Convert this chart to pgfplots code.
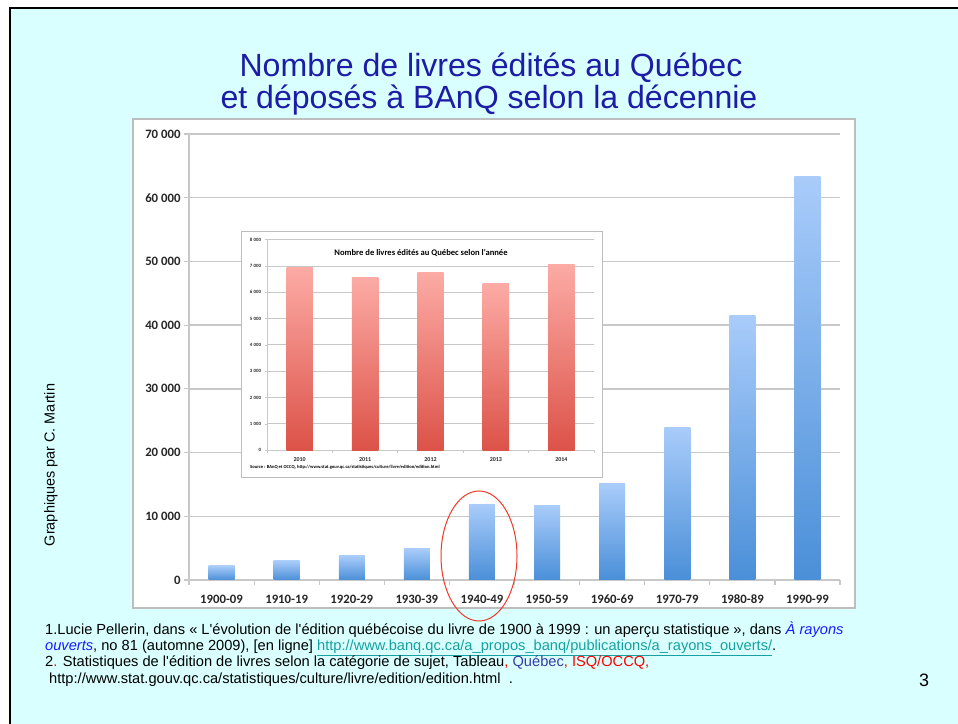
\documentclass[border=0pt]{standalone}
\usepackage{fontspec}
\setmainfont{Liberation Sans}[Ligatures=TeXOff]
\newfontfamily\calibri{Carlito}[Ligatures=TeXOff]
\usepackage{pgfplots}
\pgfplotsset{compat=1.18}

\definecolor{slidebg}{HTML}{D9FFFF}
\definecolor{titleblue}{HTML}{1C1CA6}
\definecolor{gridgray}{HTML}{C8C8C8}
\definecolor{boxgray}{HTML}{BDBDBD}
\definecolor{bluetop}{HTML}{A9CCFA}
\definecolor{bluebot}{HTML}{4A8FD8}
\definecolor{redtop}{HTML}{FCABA5}
\definecolor{redbot}{HTML}{DC5248}
\definecolor{ellred}{HTML}{EE3A2A}
\definecolor{linkteal}{HTML}{17A0A0}
\definecolor{qcblue}{HTML}{3A3AA8}
\definecolor{refblue}{HTML}{1A1AFF}

% books deposited per decade
\pgfplotstableread{
x val
0 2200
1 3000
2 3800
3 4900
4 11900
5 11700
6 15100
7 24000
8 41500
9 63400
}\decades

% books per year (inset)
\pgfplotstableread{
x val
0 6960
1 6580
2 6740
3 6320
4 7070
}\years

\begin{document}
\begin{tikzpicture}[x=1bp,y=1bp]
\useasboundingbox (0,0) rectangle (958,724);
\fill[white] (0,0) rectangle (958,724);
\fill[slidebg] (10,0) rectangle (958,716);
\draw[line width=2.5bp] (10,0) -- (10,716) -- (958,716);

% title
\node[anchor=base, text=titleblue, font=\fontsize{32.2}{36}\selectfont] at (491,647) {Nombre de livres édités au Québec};
\node[anchor=base, text=titleblue, font=\fontsize{32.2}{36}\selectfont] at (489,615) {et déposés à BAnQ selon la décennie};

% main chart frame
\draw[fill=white, draw=boxgray, line width=1.2bp] (133,116) rectangle (855,605);

\begin{axis}[
    at={(189bp,144bp)}, anchor=south west,
    scale only axis, width=651bp, height=446bp,
    xmin=-0.5, xmax=9.5, ymin=0, ymax=70000,
    axis x line*=bottom, axis y line*=left,
    axis line style={gridgray, line width=1.5bp},
    ytick={0,10000,...,70000},
    ymajorgrids, grid style={gridgray, line width=1.5bp},
    xtick={-0.5,0.5,...,9.5},
    x tick label as interval,
    xticklabels={1900-09,1910-19,1920-29,1930-39,1940-49,1950-59,1960-69,1970-79,1980-89,1990-99},
    xticklabel style={anchor=base, yshift=-19bp},
    tick align=outside, major tick length=5bp,
    tick style={gridgray, line width=1.2bp},
    ticklabel style={font=\calibri\bfseries\fontsize{12.8}{14}\selectfont, text=black!85},
    scaled y ticks=false,
    yticklabel style={/pgf/number format/.cd, 1000 sep={\ }, assume math mode=true},
]
% one path per bar, so each bar gets its own gradient
\pgfplotsinvokeforeach{0,...,9}{
  \addplot[ybar, bar width=26bp, bar shift=0pt, draw=none, top color=bluetop, bottom color=bluebot]
    table[x=x, y=val, restrict expr to domain={\coordindex}{#1:#1}] {\decades};
}
\end{axis}

% inset chart frame
\draw[fill=white, draw=boxgray, line width=1bp] (241,246) rectangle (602,492);

\begin{axis}[
    at={(267bp,273.7bp)}, anchor=south west,
    scale only axis, width=327bp, height=210.6bp,
    xmin=-0.5, xmax=4.5, ymin=0, ymax=8000,
    axis x line*=bottom, axis y line*=left,
    axis line style={gridgray, line width=0.8bp},
    ytick={0,1000,...,8000},
    ymajorgrids, grid style={gridgray, line width=1bp},
    xtick={-0.5,0.5,...,4.5},
    x tick label as interval,
    xticklabels={2010,2011,2012,2013,2014},
    tick align=outside, major tick length=2.5bp,
    tick style={gridgray, line width=0.8bp},
    xticklabel style={font=\calibri\bfseries\fontsize{6}{7}\selectfont, text=black!85, anchor=base, yshift=-9bp},
    yticklabel style={font=\calibri\bfseries\fontsize{4.9}{6}\selectfont, text=black!85,
        /pgf/number format/.cd, 1000 sep={\ }, assume math mode=true},
    scaled y ticks=false,
]
\pgfplotsinvokeforeach{0,...,4}{
  \addplot[ybar, bar width=26.4bp, bar shift=0pt, draw=none, top color=redtop, bottom color=redbot]
    table[x=x, y=val, restrict expr to domain={\coordindex}{#1:#1}] {\years};
}
\end{axis}

\node[anchor=base, font=\calibri\bfseries\fontsize{8.6}{10}\selectfont] at (421,468) {Nombre de livres édités au Québec selon l'année};
\node[anchor=base west, inner sep=0pt, font=\calibri\bfseries\fontsize{4.6}{5.5}\selectfont] at (250,255) {Source : BAnQ et OCCQ, http://www.stat.gouv.qc.ca/statistiques/culture/livre/edition/edition.html};

% highlight of the 1940s
\draw[ellred, line width=1bp] (479,168) ellipse [x radius=38, y radius=65];

% side credit
\node[rotate=90, anchor=base, font=\fontsize{14.5}{16}\selectfont] at (54.5,259) {Graphiques par C. Martin};

% references
\begin{scope}[every node/.style={anchor=base west, inner sep=0pt, font=\fontsize{14.7}{16}\selectfont}]
\node at (45,89) {1.Lucie Pellerin, dans « L'évolution de l'édition québécoise du livre de 1900 à 1999 : un aperçu statistique », dans \textcolor{refblue}{\itshape À rayons}};
\node at (45,73.3) {\textcolor{refblue}{\itshape ouverts}, no 81 (automne 2009), [en ligne] \textcolor{linkteal}{\underline{http://www.banq.qc.ca/a\_propos\_banq/publications/a\_rayons\_ouverts/}}.};
\node at (45,57.3) {2\textcolor{red}{.} Statistiques de l'édition de livres selon la catégorie de sujet, Tableau\textcolor{red}{,} \textcolor{qcblue}{Québec}\textcolor{red}{, ISQ/OCCQ,}};
\node at (49,40) {http://www.stat.gouv.qc.ca/statistiques/culture/livre/edition/edition.html \ .};
\node at (919,37) {\fontsize{18}{20}\selectfont 3};
\end{scope}
\end{tikzpicture}
\end{document}
